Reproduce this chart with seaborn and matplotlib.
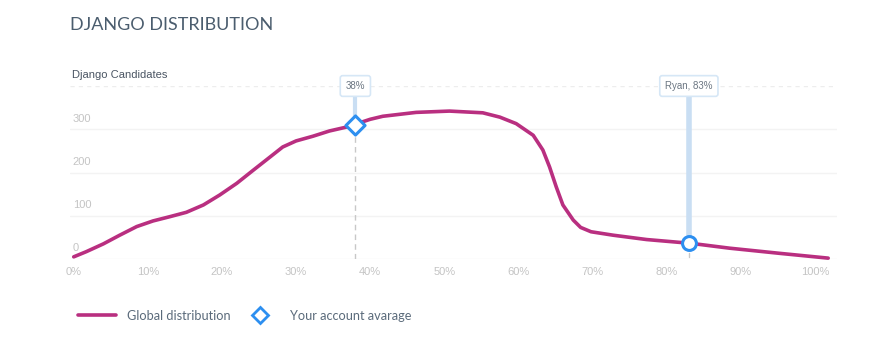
import numpy as np
import pandas as pd
import matplotlib
matplotlib.use("Agg")
import matplotlib.pyplot as plt
import seaborn as sns

# data
pct = [0, 1.7, 4.0, 6.2, 8.5, 10.7, 13.0, 15.2, 17.5, 19.7, 22.0, 24.2, 26.5,
       28.2, 30.0, 32.3, 34.5, 36.8, 40.0, 41.7, 46.2, 50.7, 55.2, 57.5, 59.7,
       62.0, 63.3, 64.2, 65.1, 66.0, 67.4, 68.4, 69.8, 72.8, 77.3, 83.4, 88.5,
       95.3, 101.8]
candidates = [5, 17, 35, 55, 75, 88, 98, 108, 125, 148, 175, 205, 236,
              259, 273, 284, 296, 305, 323, 330, 339, 342, 338, 328, 313,
              286, 252, 213, 167, 125, 90, 73, 63, 55, 45, 36, 25,
              13, 2]
account_pct = [38]
account_val = [310]
ryan_pct = [83]
ryan_val = [37]
x_ticks = [0, 10, 20, 30, 40, 50, 60, 70, 80, 90, 100]
y_ticks = [0, 100, 200, 300]
tip_labels = ["38%", "Ryan, 83%"]

df = pd.DataFrame({"pct": pct, "candidates": candidates})

sns.set_style("white")
plt.rcParams["font.family"] = ["Liberation Sans", "DejaVu Sans"]

LINE = "#b92f80"
BLUE = "#2d8ff0"
PALE = "#c9def3"
GREY_TXT = "#c4c4c4"
SLATE = "#4b5d6e"

fig = plt.figure(figsize=(8.93, 3.57), dpi=100)
ax = fig.add_axes([0.0784, 0.2745, 0.859, 0.4846])

# grid
for v in y_ticks:
    ax.axhline(v, color="#f3f3f3", lw=1, zorder=0)
ax.axhline(400, color="#ededed", lw=1, ls=(0, (3, 3)), zorder=0)

# connectors to tooltips
ax.plot([account_pct[0]] * 2, [0, account_val[0]], color="#c8c8c8", lw=1,
        ls=(0, (4, 3)), zorder=1)
ax.plot([account_pct[0]] * 2, [account_val[0], 400], color=PALE, lw=3, zorder=1)
ax.plot([ryan_pct[0]] * 2, [ryan_val[0], 400], color=PALE, lw=4, zorder=1)
ax.plot([ryan_pct[0]] * 2, [5, 14], color="#c8c8c8", lw=1, zorder=1)

sns.lineplot(data=df, x="pct", y="candidates", color=LINE, lw=2.6, ax=ax,
             zorder=3, clip_on=False, legend=False)

sns.scatterplot(x=account_pct, y=account_val, marker="D", s=95,
                facecolor="white", edgecolor=BLUE, linewidth=2.2, ax=ax,
                zorder=5, clip_on=False)
sns.scatterplot(x=ryan_pct, y=ryan_val, marker="o", s=100,
                facecolor="white", edgecolor=BLUE, linewidth=2.2, ax=ax,
                zorder=5, clip_on=False)

# tooltips
for xp, lab in zip([account_pct[0], ryan_pct[0]], tip_labels):
    ax.text(xp, 400, lab, ha="center", va="center", fontsize=7,
            color="#6b7682", zorder=6,
            bbox=dict(boxstyle="round,pad=0.55,rounding_size=0.25",
                      fc="white", ec="#d6e7f6", lw=1.2))

ax.set_xlim(-0.5, 103)
ax.set_ylim(0, 400)
ax.set_xticks(x_ticks)
ax.set_xticklabels([f"{t}%" for t in x_ticks], fontsize=8, color=GREY_TXT)
ax.tick_params(axis="x", length=0, pad=6)
ax.set_yticks([])
for v in y_ticks:
    ax.annotate(str(v), xy=(0, v), xycoords=("axes fraction", "data"),
                xytext=(2, 4), textcoords="offset points", fontsize=8,
                color=GREY_TXT, ha="left", va="bottom")
ax.set_xlabel("")
ax.set_ylabel("")
sns.despine(ax=ax, left=True, bottom=True)

fig.text(0.081, 0.79, "Django Candidates", fontsize=8, color="#4a5563",
         va="center", ha="left")
fig.text(0.078, 0.93, "DJANGO DISTRIBUTION", fontsize=13, color=SLATE,
         va="center", ha="left", family=["Lato", "DejaVu Sans"])

# legend
h_line = plt.Line2D([], [], color=LINE, lw=2.6)
h_dia = plt.Line2D([], [], marker="D", ls="", ms=8, mfc="white", mec=BLUE,
                   mew=2)
fig.legend([h_line, h_dia], ["Global distribution", "Your account avarage"],
           loc="center left", bbox_to_anchor=(0.087, 0.115), ncol=2,
           frameon=False, handlelength=3.0, handletextpad=0.85,
           columnspacing=0.8, prop={"family": ["Lato", "DejaVu Sans"], "size": 9.2},
           labelcolor="#5b6b7b", borderaxespad=0, borderpad=0)

fig.savefig("out.png", dpi=100, facecolor="white")
